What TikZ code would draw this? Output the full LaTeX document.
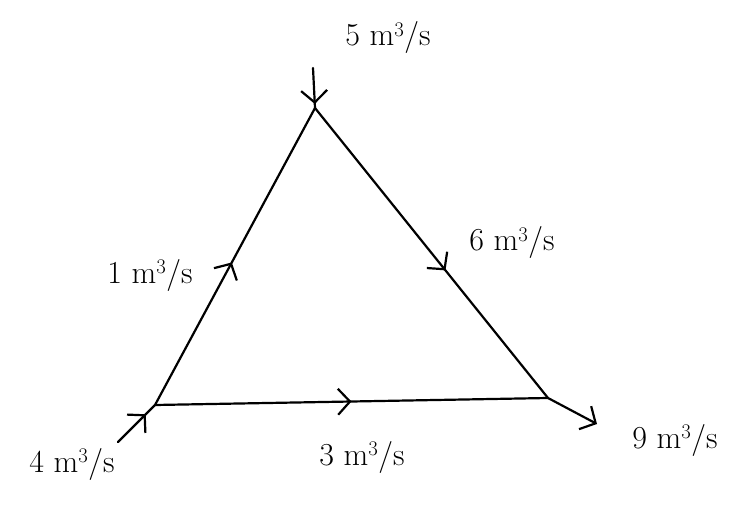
\documentclass[tikz,border=0pt]{standalone}
\usetikzlibrary{arrows.meta,decorations.markings}
\begin{document}
\begin{tikzpicture}[x=1pt,y=-1pt,
  flow/.style={line width=2.2pt, line cap=round},
  barb/.tip={Straight Barb[length=12pt,width=26pt,line width=2.2pt]},
  midarrow/.style={postaction={decorate},decoration={markings,mark=at position #1 with {\arrow{barb}}}},
  lbl/.style={font=\fontsize{32}{36}\selectfont, inner sep=0pt}]
\useasboundingbox (0,0) rectangle (744,505);
\coordinate (T) at (315,108);
\coordinate (L) at (155,405);
\coordinate (R) at (548,398);
\coordinate (inT) at (313,68);
\coordinate (inL) at (118,442);
\coordinate (outR) at (597,424);
\draw[flow, midarrow=0.48] (L) -- (T);
\draw[flow, midarrow=0.56] (T) -- (R);
\draw[flow, midarrow=0.5] (L) -- (R);
\draw[flow, midarrow=0.9] (inT) -- (T);
\draw[flow, midarrow=0.75] (inL) -- (L);
\draw[flow, -{barb}] (R) -- (outR);
\node[lbl] (l5) at (388,38) {5 m$^3$/s};
\node[lbl] (l1) at (150,275) {1 m$^3$/s};
\node[lbl] (l6) at (512,243) {6 m$^3$/s};
\node[lbl] (l4) at (72,464) {4 m$^3$/s};
\node[lbl] (l3) at (362,457) {3 m$^3$/s};
\node[lbl] (l9) at (675,440) {9 m$^3$/s};
\end{tikzpicture}
\end{document}
